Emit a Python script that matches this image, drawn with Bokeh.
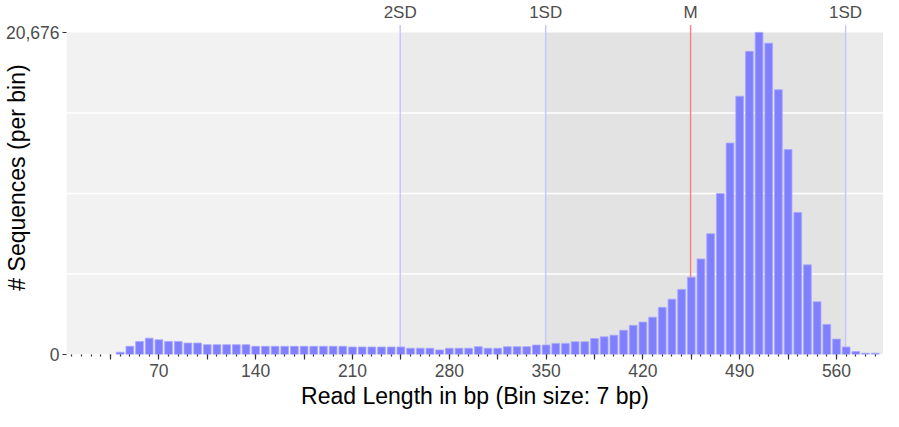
from bokeh.plotting import figure
from bokeh.models import Range1d, FixedTicker, NumeralTickFormatter, ColumnDataSource
from bokeh.core.properties import value
from bokeh.embed import file_html
from bokeh.resources import INLINE

# ---- data ----
bin_size = 7
bin_centers = list(range(42, 589, 7))
counts = [145, 525, 840, 1050, 945, 840, 840, 735, 735, 630,
          630, 630, 630, 630, 525, 525, 525, 525, 525, 525,
          525, 525, 525, 525, 483, 483, 483, 483, 483, 483,
          400, 400, 400, 294, 400, 400, 400, 504, 400, 400,
          504, 504, 504, 609, 609, 714, 714, 820, 820, 1028,
          1135, 1240, 1555, 1870, 2080, 2395, 3026, 3550, 4180, 4960,
          6135, 7754, 10339, 13573, 16580, 19461, 20676, 19984, 17000, 13157,
          9120, 5756, 3383, 1933, 988, 483, 189, 84, 84]
y_max = 20676
marker_pos = [244.5, 349.7, 454.5, 566.6]
marker_labels = ["2SD", "1SD", "M", "1SD"]
marker_colors = ["#c4c4ff", "#c4c4ff", "#ff7f7f", "#c4c4ff"]
x_tick_labels = [70, 140, 210, 280, 350, 420, 490, 560]

x_start, x_end = 3.2, 594.0
y_end = y_max * 1.099

FONT = "Liberation Sans"

p = figure(width=883, height=411, output_backend="svg", toolbar_location=None,
           x_range=Range1d(x_start, x_end), y_range=Range1d(0, y_end),
           min_border_left=60, min_border_right=0, min_border_top=0, min_border_bottom=40)
p.background_fill_color = "white"
p.border_fill_color = "white"
p.outline_line_color = None
p.xgrid.visible = False
p.ygrid.visible = False

# panel shading regions
p.quad(left=[x_start, marker_pos[0], marker_pos[1], marker_pos[3]],
       right=[marker_pos[0], marker_pos[1], marker_pos[3], x_end],
       bottom=0, top=y_max,
       fill_color=["#f2f2f2", "#ebebeb", "#e3e3e3", "#ebebeb"], line_color=None)

# white grid lines at quarters
qs = [y_max * 0.25, y_max * 0.5, y_max * 0.75]
p.segment(x0=[x_start] * 3, x1=[x_end] * 3, y0=qs, y1=qs, line_color="white", line_width=1.5)

# marker lines
line_top = y_max * 1.023
p.segment(x0=marker_pos, x1=marker_pos, y0=[0] * 4, y1=[line_top] * 4,
          line_color=marker_colors, line_width=1.4)

# bars
src = ColumnDataSource(dict(x=bin_centers, top=counts))
p.vbar(x="x", top="top", bottom=0, width=5.6, source=src,
       fill_color="#8080ff", line_color="#a8a8ff", line_width=0.8)

# marker labels above panel
p.text(x=marker_pos, y=[y_max * 1.062] * 4, text=marker_labels,
       text_align="center", text_baseline="middle",
       text_font=value(FONT), text_font_size="17px", text_color="#4d4d4d")

# x axis
major = list(range(35, 596, 35))
minor = list(range(7, 596, 7))
xa = p.xaxis[0]
xa.ticker = FixedTicker(ticks=major, minor_ticks=minor)
xa.major_label_overrides = {t: (str(t) if t in x_tick_labels else "") for t in major}
xa.axis_line_color = None
xa.major_tick_out = 5
xa.major_tick_in = 0
xa.major_tick_line_color = "#333333"
xa.major_tick_line_width = 1.2
xa.minor_tick_out = 2
xa.minor_tick_in = 0
xa.minor_tick_line_color = "#333333"
xa.minor_tick_line_width = 1.2
xa.major_label_text_font = FONT
xa.major_label_text_font_size = "17.5px"
xa.major_label_text_color = "#4d4d4d"
xa.major_label_standoff = 4
xa.axis_label = "Read Length in bp (Bin size: 7 bp)"
xa.axis_label_text_font = FONT
xa.axis_label_text_font_size = "23px"
xa.axis_label_text_font_style = "normal"
xa.axis_label_text_color = "black"
xa.axis_label_standoff = 3

# y axis
ya = p.yaxis[0]
ya.ticker = FixedTicker(ticks=[0, y_max])
ya.formatter = NumeralTickFormatter(format="0,0")
ya.axis_line_color = None
ya.major_tick_out = 4
ya.major_tick_in = 0
ya.major_tick_line_color = "#333333"
ya.major_tick_line_width = 1.2
ya.minor_tick_line_color = None
ya.major_label_text_font = FONT
ya.major_label_text_font_size = "17.5px"
ya.major_label_text_color = "#4d4d4d"
ya.major_label_standoff = 3
ya.axis_label = "# Sequences (per bin)"
ya.axis_label_text_font = FONT
ya.axis_label_text_font_size = "23px"
ya.axis_label_text_font_style = "normal"
ya.axis_label_text_color = "black"
ya.axis_label_standoff = -27

open("out.html", "w").write(file_html(p, INLINE))
